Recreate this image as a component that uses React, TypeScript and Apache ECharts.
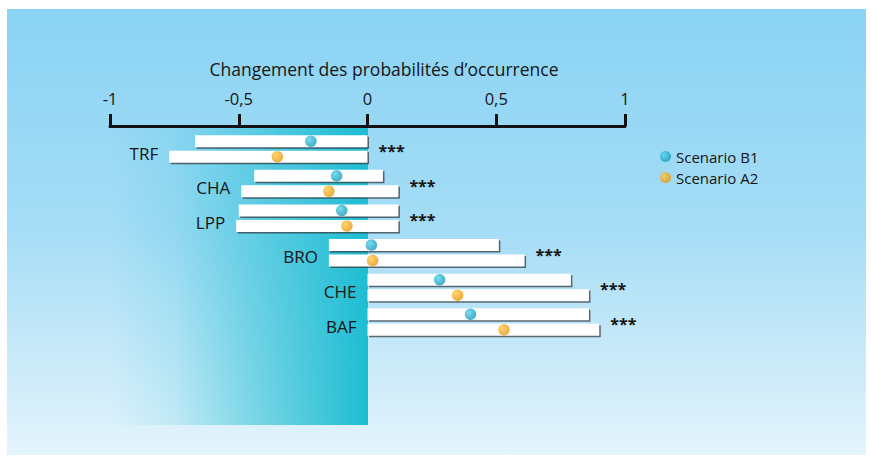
import React, { useEffect, useRef } from "react";
import * as echarts from "echarts";

const categories = ["TRF", "CHA", "LPP", "BRO", "CHE", "BAF"];
const b1Low = [-0.67, -0.44, -0.5, -0.15, 0, 0];
const b1High = [0, 0.06, 0.12, 0.51, 0.79, 0.86];
const b1Point = [-0.22, -0.12, -0.1, 0.015, 0.28, 0.4];
const a2Low = [-0.77, -0.49, -0.51, -0.15, 0, 0];
const a2High = [0, 0.12, 0.12, 0.61, 0.86, 0.9];
const a2Point = [-0.35, -0.15, -0.08, 0.02, 0.35, 0.53];
const significance = ["***", "***", "***", "***", "***", "***"];
const seriesNames = ["Scenario B1", "Scenario A2"];

const FONT = "'Open Sans', 'Noto Sans', sans-serif";
const TEXT = "#151515";
const ROW_OFF = 7.75;
const BAR_H = 12;

export default function App() {
  const ref = useRef<HTMLDivElement>(null);
  useEffect(() => {
    if (!ref.current) return;
    const chart = echarts.init(ref.current, null, { renderer: "svg" });

    const barData: number[][] = [];
    categories.forEach((_, i) => {
      barData.push([i, b1Low[i], b1High[i], 0]);
      barData.push([i, a2Low[i], a2High[i], 1]);
    });
    const labelData = categories.map((_, i) => [
      i,
      Math.min(b1Low[i], a2Low[i]),
      Math.max(b1High[i], a2High[i]),
    ]);

    const cyanGrad = {
      type: "radial",
      x: 0.35,
      y: 0.35,
      r: 0.75,
      colorStops: [
        { offset: 0, color: "#55d4ea" },
        { offset: 1, color: "#0d93b4" },
      ],
    };
    const orangeGrad = {
      type: "radial",
      x: 0.35,
      y: 0.35,
      r: 0.75,
      colorStops: [
        { offset: 0, color: "#ffcb48" },
        { offset: 1, color: "#e68f08" },
      ],
    };

    chart.setOption({
      animation: false,
      title: {
        text: "Changement des probabilités d’occurrence",
        left: 379,
        top: 55,
        textAlign: "center",
        textStyle: { fontFamily: FONT, fontSize: 17.5, fontWeight: 500, color: TEXT },
      },
      graphic: [
        {
          type: "rect",
          z: -20,
          silent: true,
          shape: { x: 7, y: 9, width: 859, height: 446 },
          style: {
            fill: {
              type: "linear",
              x: 0,
              y: 0,
              x2: 0,
              y2: 1,
              colorStops: [
                { offset: 0, color: "#8ad3f4" },
                { offset: 0.5, color: "#a6ddf6" },
                { offset: 1, color: "#e4f4fc" },
              ],
            },
          },
        },
        {
          type: "rect",
          z: -10,
          silent: true,
          shape: { x: 110, y: 127, width: 258, height: 298 },
          style: {
            fill: {
              type: "linear",
              x: 0,
              y: 0,
              x2: 1,
              y2: 0,
              colorStops: [
                { offset: 0, color: "rgba(29,189,210,0)" },
                { offset: 0.25, color: "rgba(29,189,210,0.14)" },
                { offset: 0.55, color: "rgba(29,189,210,0.5)" },
                { offset: 1, color: "rgba(29,189,210,1)" },
              ],
            },
          },
        },
      ],
      legend: {
        orient: "vertical",
        left: 660,
        top: 147.5,
        padding: 0,
        itemWidth: 11,
        itemHeight: 11,
        itemGap: 3,
        icon: "circle",
        data: seriesNames,
        textStyle: { fontFamily: FONT, fontSize: 15, fontWeight: 500, color: TEXT, lineHeight: 18 },
      },
      grid: { left: 110, right: 246, top: 131.7, height: 207.6, containLabel: false },
      xAxis: {
        type: "value",
        position: "top",
        min: -1,
        max: 1,
        interval: 0.5,
        offset: 5.7,
        splitLine: { show: false },
        axisLine: { show: true, lineStyle: { color: "#111", width: 3 } },
        axisTick: { show: true, length: 12, lineStyle: { color: "#111", width: 3 } },
        axisLabel: {
          margin: 19,
          fontFamily: FONT,
          fontSize: 16.5,
          fontWeight: 500,
          color: TEXT,
          formatter: (v: number) => String(v).replace(".", ","),
        },
      },
      yAxis: {
        type: "category",
        inverse: true,
        data: categories,
        show: false,
      },
      series: [
        {
          type: "custom",
          name: "bars",
          z: 2,
          encode: { x: [1, 2], y: 0 },
          data: barData,
          renderItem: (params: any, api: any) => {
            const cat = api.value(0);
            const s = api.coord([api.value(1), cat]);
            const e = api.coord([api.value(2), cat]);
            const off = api.value(3) === 0 ? -ROW_OFF : ROW_OFF;
            const y = s[1] + off - BAR_H / 2;
            const w = e[0] - s[0];
            return {
              type: "group",
              children: [
                {
                  type: "rect",
                  shape: { x: s[0] + 1.5, y: y + 1.5, width: w, height: BAR_H },
                  style: { fill: "rgba(55,60,65,0.75)" },
                },
                {
                  type: "rect",
                  shape: { x: s[0], y, width: w, height: BAR_H },
                  style: { fill: "#ffffff" },
                },
              ],
            };
          },
        },
        {
          type: "custom",
          name: "labels",
          z: 3,
          encode: { x: [1, 2], y: 0 },
          data: labelData,
          renderItem: (params: any, api: any) => {
            const cat = api.value(0);
            const lo = api.coord([api.value(1), cat]);
            const hi = api.coord([api.value(2), cat]);
            return {
              type: "group",
              children: [
                {
                  type: "text",
                  x: lo[0] - 11,
                  y: lo[1] + 4,
                  style: {
                    text: categories[params.dataIndex],
                    fill: TEXT,
                    font: `500 17px ${FONT}`,
                    align: "right",
                    verticalAlign: "middle",
                  },
                },
                {
                  type: "text",
                  x: hi[0] + 11,
                  y: hi[1] + 2,
                  style: {
                    text: significance[params.dataIndex],
                    fill: TEXT,
                    font: `bold 16px ${FONT}`,
                    align: "left",
                    verticalAlign: "middle",
                  },
                },
              ],
            };
          },
        },
        {
          type: "scatter",
          name: seriesNames[0],
          z: 4,
          symbol: "circle",
          symbolSize: 11.5,
          symbolOffset: [0, -ROW_OFF],
          itemStyle: { color: cyanGrad as any },
          data: b1Point.map((v, i) => [v, i]),
        },
        {
          type: "scatter",
          name: seriesNames[1],
          z: 4,
          symbol: "circle",
          symbolSize: 11.5,
          symbolOffset: [0, ROW_OFF],
          itemStyle: { color: orangeGrad as any },
          data: a2Point.map((v, i) => [v, i]),
        },
      ],
    });
    return () => chart.dispose();
  }, []);
  return (
    <div
      ref={ref}
      style={{ position: "fixed", left: 0, top: 0, width: 871, height: 459, background: "#ffffff" }}
    />
  );
}
